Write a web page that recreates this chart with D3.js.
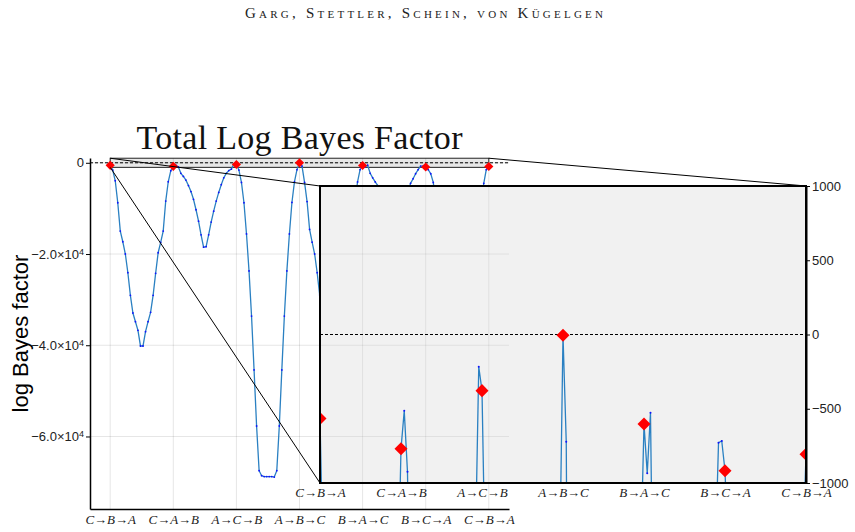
<!DOCTYPE html>
<html>
<head>
<meta charset="utf-8">
<script src="https://cdn.jsdelivr.net/npm/d3@7"></script>
<style>
  body { margin: 0; background: #fff; }
  svg { display: block; }
</style>
</head>
<body>
<div id="chart"></div>
<script>
// orderings visited along the path, and where they sit in the sample index
const orderings = ["C→B→A", "C→A→B", "A→C→B", "A→B→C", "B→A→C", "B→C→A", "C→B→A"];
const orderingIndex = [0, 25, 50, 75, 100, 125, 150];

// total log Bayes factor along the path (151 samples, 25 per transition)
const logBF = [
  -565, -1600, -3940, -8760, -14960, -17310, -20000, -24100, -29050, -32930,
  -34840, -36720, -40160, -40160, -37030, -34840, -32780, -29050, -24230, -19720,
  -17440, -14960, -8390, -4160, -1750,
  -770, -513, -925, -2300, -3000, -3800, -5000, -6300, -8000, -10300,
  -12800, -15800, -18500, -18400, -15800, -13000, -10600, -8400, -6500, -4800,
  -3300, -2300, -1700, -1400, -217,
  -378, -1600, -4300, -8760, -15600, -23700, -33600, -45400, -57700, -67500,
  -68600, -68800, -68800, -68800, -68800, -68900, -67500, -57700, -45400, -33600,
  -23700, -15600, -8700, -4200, -1500,
  -5, -722, -4300, -8500, -14600, -17400, -20000, -24100, -29000, -32900,
  -34900, -36800, -40200, -40200, -37000, -34800, -32700, -29000, -24200, -19700,
  -17400, -14900, -8400, -4200, -1500,
  -603, -935, -527, -2300, -3300, -4200, -5000, -6300, -8000, -10300,
  -12800, -15800, -18500, -18400, -15800, -13000, -10600, -8400, -6500, -4500,
  -3500, -2400, -1500, -729, -717,
  -917, -1500, -2400, -4300, -8700, -15600, -23700, -33600, -45400, -57700,
  -67500, -68600, -68800, -68800, -68900, -68700, -67500, -57700, -45400, -33600,
  -23700, -15600, -8700, -4500, -1500,
  -807
];

const mainYTicks = [0, -20000, -40000, -60000];
const insetYTicks = [1000, 500, 0, -500, -1000];
const zoomRange = [-1000, 1000];

const W = 855, H = 532;
const svg = d3.select("#chart").append("svg")
    .attr("width", W)
    .attr("height", H);

const main = { left: 90, right: 509, top: 158, bottom: 509 };
const inset = { left: 320, right: 806, top: 186, bottom: 483 };

const x = d3.scaleLinear().domain([-8, 158]).range([main.left, main.right]);
const y = d3.scaleLinear().domain([-75900, 1050]).range([main.bottom, main.top]);
const xi = d3.scaleLinear().domain([0, 150]).range([inset.left, inset.right]);
const yi = d3.scaleLinear().domain(zoomRange).range([inset.bottom, inset.top]);

const points = logBF.map((v, i) => ({ i, v }));
const marks = orderingIndex.map(i => ({ i, v: logBF[i] }));

const lineColor = "#2a80c2";
const serif = "'Liberation Serif', 'DejaVu Serif', serif";
const sans = "'Liberation Sans', Arial, sans-serif";

// header and titles
svg.append("text")
    .attr("x", 424).attr("y", 18)
    .attr("text-anchor", "middle")
    .attr("textLength", 358)
    .style("font-family", serif)
    .style("font-size", "15px")
    .style("font-variant", "small-caps")
    .style("fill", "#222")
    .text("Garg, Stettler, Schein, von Kügelgen");

svg.append("text")
    .attr("x", (main.left + main.right) / 2).attr("y", 149)
    .attr("text-anchor", "middle")
    .attr("textLength", 326)
    .style("font-family", serif)
    .style("font-size", "34px")
    .style("fill", "#111")
    .text("Total Log Bayes Factor");

svg.append("text")
    .attr("transform", `translate(28,${(main.top + main.bottom) / 2}) rotate(-90)`)
    .attr("text-anchor", "middle")
    .style("font-family", sans)
    .style("font-size", "22px")
    .style("fill", "#000")
    .text("log Bayes factor");

function drawGrid(g, opacity) {
    g.selectAll("line.vg")
        .data(orderingIndex)
        .enter().append("line")
        .attr("class", "vg")
        .attr("x1", d => x(d)).attr("x2", d => x(d))
        .attr("y1", main.top).attr("y2", main.bottom);
    g.selectAll("line.hg")
        .data(mainYTicks)
        .enter().append("line")
        .attr("class", "hg")
        .attr("x1", main.left).attr("x2", main.right)
        .attr("y1", d => y(d)).attr("y2", d => y(d));
    g.selectAll("line")
        .style("stroke", "#000")
        .style("stroke-opacity", opacity)
        .style("stroke-width", 1);
}

function orderingLabel(sel) {
    sel.each(function (d, k) {
        const t = d3.select(this).text(null);
        const parts = orderings[k].split("→");
        parts.forEach((p, j) => {
            t.append("tspan").style("font-style", "italic").text(p);
            if (j < parts.length - 1) t.append("tspan").style("font-style", "normal").text("→");
        });
    });
}

function diamond(size) {
    return d3.symbol().type(d3.symbolSquare).size(size);
}

function drawSeries(g, xs, ys, dotR, markSize) {
    g.append("path")
        .datum(points)
        .attr("d", d3.line().x(d => xs(d.i)).y(d => ys(d.v)))
        .style("fill", "none")
        .style("stroke", lineColor)
        .style("stroke-width", 1.3);
    g.selectAll("circle.pt")
        .data(points)
        .enter().append("circle")
        .attr("class", "pt")
        .attr("cx", d => xs(d.i))
        .attr("cy", d => ys(d.v))
        .attr("r", dotR)
        .style("fill", "#1010ff");
    g.selectAll("path.mark")
        .data(marks)
        .enter().append("path")
        .attr("class", "mark")
        .attr("d", diamond(markSize))
        .attr("transform", d => `translate(${xs(d.i)},${ys(d.v)}) rotate(45)`)
        .style("fill", "#ff0000");
}

// main axes area
drawGrid(svg.append("g"), 0.1);

// zoom indicator box
svg.append("rect")
    .attr("x", x(0)).attr("y", y(zoomRange[1]))
    .attr("width", x(150) - x(0))
    .attr("height", y(zoomRange[0]) - y(zoomRange[1]))
    .style("fill", "#000").style("fill-opacity", 0.09)
    .style("stroke", "#222").style("stroke-width", 1);

svg.append("line")
    .attr("x1", main.left).attr("x2", main.right)
    .attr("y1", y(0)).attr("y2", y(0))
    .style("stroke", "#000").style("stroke-width", 1)
    .style("stroke-dasharray", "3,2");

drawSeries(svg.append("g"), x, y, 0.9, 42);

// connectors from the box to the inset corners
const connectors = [
    [x(0), y(zoomRange[1]), inset.left, inset.top],
    [x(0), y(zoomRange[0]), inset.left, inset.bottom],
    [x(150), y(zoomRange[1]), inset.right, inset.top]
];
svg.selectAll("line.conn")
    .data(connectors)
    .enter().append("line")
    .attr("class", "conn")
    .attr("x1", d => d[0]).attr("y1", d => d[1])
    .attr("x2", d => d[2]).attr("y2", d => d[3])
    .style("stroke", "#000").style("stroke-width", 1);

const yAxis = svg.append("g")
    .attr("transform", `translate(${main.left},0)`)
    .call(d3.axisLeft(y).tickValues(mainYTicks).tickSize(4).tickSizeOuter(0).tickPadding(2));
yAxis.selectAll(".tick text").each(function (d) {
    const t = d3.select(this).text(null);
    if (d === 0) { t.text("0"); return; }
    const m = Math.abs(d) / 1e4;
    t.append("tspan").text(`−${m.toFixed(1)}×10`);
    t.append("tspan").attr("dy", "-0.45em").style("font-size", "9px").text("4");
});

const xAxis = svg.append("g")
    .attr("transform", `translate(0,${main.bottom})`)
    .call(d3.axisBottom(x).tickValues(orderingIndex).tickSize(0).tickSizeOuter(0).tickPadding(6));
xAxis.selectAll(".tick text").call(orderingLabel);

[yAxis, xAxis].forEach(a => {
    a.select(".domain").style("stroke-width", 1.5);
});
yAxis.selectAll("text").style("font-family", sans).style("font-size", "13px").style("fill", "#222");
xAxis.selectAll("text").style("font-family", serif).style("font-size", "13px").style("fill", "#222");

// inset
const defs = svg.append("defs");
defs.append("clipPath").attr("id", "insetClip")
    .append("rect")
    .attr("x", inset.left).attr("y", inset.top)
    .attr("width", inset.right - inset.left)
    .attr("height", inset.bottom - inset.top);

svg.append("rect")
    .attr("x", inset.left).attr("y", inset.top)
    .attr("width", inset.right - inset.left)
    .attr("height", inset.bottom - inset.top)
    .style("fill", "#f1f1f1");

const ig = svg.append("g").attr("clip-path", "url(#insetClip)");
drawGrid(ig.append("g"), 0.07);

ig.append("line")
    .attr("x1", inset.left).attr("x2", inset.right)
    .attr("y1", yi(0)).attr("y2", yi(0))
    .style("stroke", "#000").style("stroke-width", 1)
    .style("stroke-dasharray", "3,2");

drawSeries(ig.append("g"), xi, yi, 1, 85);

svg.append("rect")
    .attr("x", inset.left).attr("y", inset.top)
    .attr("width", inset.right - inset.left)
    .attr("height", inset.bottom - inset.top)
    .style("fill", "none")
    .style("stroke", "#000").style("stroke-width", 2);

const yAxisI = svg.append("g")
    .attr("transform", `translate(${inset.right},0)`)
    .call(d3.axisRight(yi).tickValues(insetYTicks).tickSize(4).tickSizeOuter(0).tickPadding(2)
        .tickFormat(d => d < 0 ? "−" + Math.abs(d) : String(d)));
yAxisI.select(".domain").style("stroke-width", 2);
yAxisI.selectAll("text").style("font-family", sans).style("font-size", "13px").style("fill", "#222");

const xAxisI = svg.append("g")
    .attr("transform", `translate(0,${inset.bottom})`)
    .call(d3.axisBottom(xi).tickValues(orderingIndex).tickSize(0).tickSizeOuter(0).tickPadding(5));
xAxisI.select(".domain").remove();
xAxisI.selectAll(".tick text").call(orderingLabel);
xAxisI.selectAll("text").style("font-family", serif).style("font-size", "13px").style("fill", "#222");
</script>
</body>
</html>
